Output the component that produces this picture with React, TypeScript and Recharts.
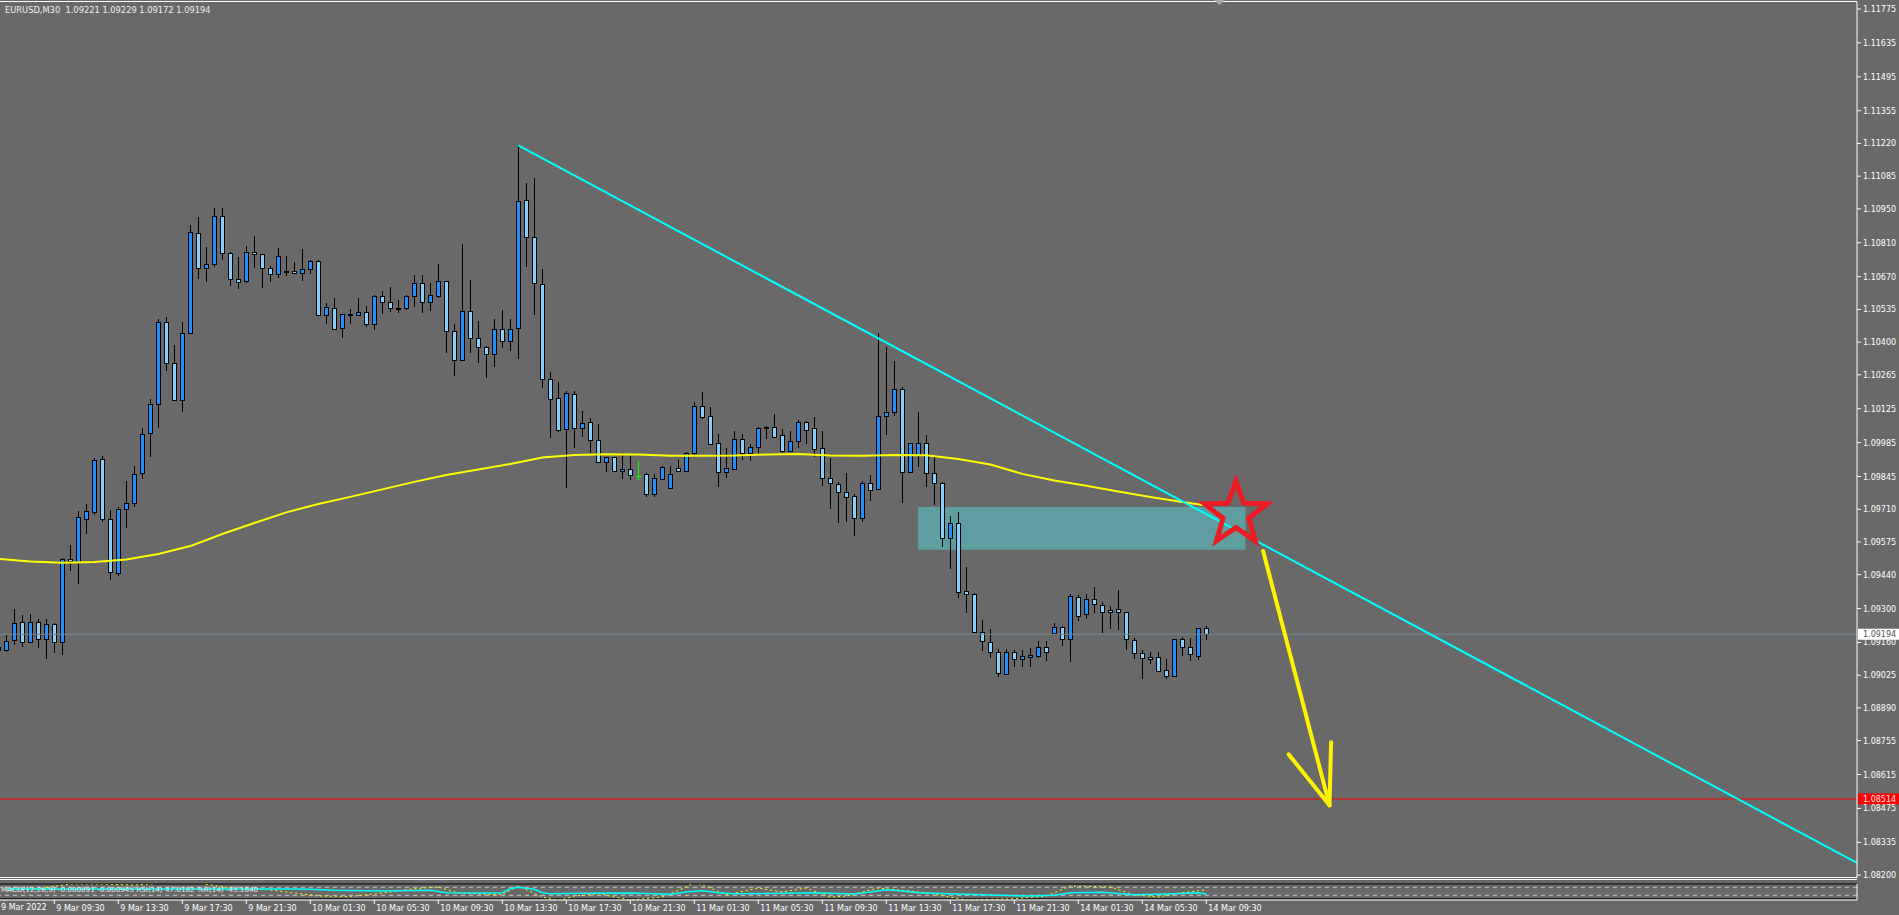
import React from "react";
import {
  ComposedChart,
  Bar,
  Line,
  XAxis,
  YAxis,
  ReferenceLine,
  ReferenceArea,
  ReferenceDot,
} from "recharts";

// EURUSD M30, bar index -1 = 9 Mar 06:00, 150 = 14 Mar 09:30
const firstBar = -1;

const opens = [
  1.09141, 1.09129, 1.0917, 1.09246, 1.09161, 1.09246, 1.09174, 1.09235, 1.09163, 1.09503,
  1.09494, 1.09669, 1.09697, 1.09916, 1.09669, 1.09446, 1.0971, 1.09735, 1.09858, 1.10024,
  1.10143, 1.10484, 1.10314, 1.1016, 1.10439, 1.10849, 1.10705, 1.10721, 1.10919, 1.10767,
  1.10659, 1.10651, 1.10772, 1.10762, 1.10705, 1.1068, 1.10688, 1.10692, 1.10684, 1.10701,
  1.10735, 1.10511, 1.1054, 1.10457, 1.10511, 1.10511, 1.10523, 1.10473, 1.10589, 1.10564,
  1.10541, 1.1054, 1.10592, 1.10643, 1.10564, 1.10589, 1.10651, 1.10445, 1.10326, 1.10529,
  1.10416, 1.10381, 1.1035, 1.10453, 1.10403, 1.10457, 1.10985, 1.10833, 1.10639, 1.10248,
  1.10168, 1.1004, 1.10185, 1.10044, 1.10069, 1.09995, 1.09906, 1.09925, 1.09867, 1.09875,
  1.09849, 1.09854, 1.09774, 1.09834, 1.09797, 1.09879, 1.09869, 1.09944, 1.10135, 1.10094,
  1.09982, 1.09865, 1.09876, 1.09999, 1.09944, 1.09966, 1.10051, 1.1005, 1.10017, 1.09952,
  1.09993, 1.10069, 1.10044, 1.09962, 1.09838, 1.09814, 1.0978, 1.09764, 1.09673, 1.09817,
  1.09792, 1.10096, 1.10113, 1.10205, 1.09865, 1.09934, 1.09982, 1.09858, 1.09817, 1.09593,
  1.09652, 1.09371, 1.09359, 1.09205, 1.09161, 1.0912, 1.0903, 1.0912, 1.09091, 1.09099,
  1.09106, 1.0914, 1.092, 1.09225, 1.09173, 1.09349, 1.09276, 1.09338, 1.09314, 1.09294,
  1.09297, 1.09285, 1.0917, 1.09115, 1.09099, 1.09099, 1.09046, 1.09023, 1.09173, 1.09143,
  1.09106, 1.09221,
];

const highs = [
  1.0915, 1.09191, 1.09297, 1.09274, 1.09276, 1.09256, 1.09256, 1.09239, 1.09508, 1.09562,
  1.09703, 1.09732, 1.0992, 1.0993, 1.09707, 1.09721, 1.09827, 1.09889, 1.10044, 1.10164,
  1.10494, 1.10502, 1.10388, 1.10482, 1.10883, 1.10916, 1.10791, 1.10952, 1.10952, 1.1077,
  1.1075, 1.10797, 1.10838, 1.10765, 1.10714, 1.10787, 1.10755, 1.10729, 1.10783, 1.10739,
  1.1074, 1.1056, 1.10581, 1.10517, 1.10537, 1.10581, 1.10549, 1.10594, 1.10611, 1.10628,
  1.10574, 1.10594, 1.10677, 1.10677, 1.10645, 1.10722, 1.10653, 1.10475, 1.10805, 1.10656,
  1.10487, 1.10383, 1.10495, 1.10533, 1.10495, 1.11212, 1.11056, 1.11076, 1.10702, 1.10275,
  1.10234, 1.10199, 1.10199, 1.10116, 1.10085, 1.10062, 1.09927, 1.09927, 1.09944, 1.0993,
  1.09909, 1.09858, 1.09856, 1.0989, 1.09889, 1.09913, 1.09948, 1.10152, 1.10194, 1.10131,
  1.10019, 1.09962, 1.10033, 1.10021, 1.09978, 1.10051, 1.10052, 1.10103, 1.1004, 1.10033,
  1.10078, 1.10074, 1.1009, 1.10033, 1.09922, 1.09824, 1.0986, 1.09772, 1.09827, 1.09851,
  1.10436, 1.1038, 1.10322, 1.10213, 1.09984, 1.10112, 1.10017, 1.09927, 1.09821, 1.09682,
  1.09699, 1.09473, 1.09366, 1.09253, 1.09216, 1.09132, 1.09132, 1.09129, 1.09129, 1.09139,
  1.09166, 1.09166, 1.09239, 1.09228, 1.09359, 1.09356, 1.0936, 1.09388, 1.09326, 1.09312,
  1.09377, 1.09287, 1.09177, 1.09129, 1.0912, 1.0912, 1.09091, 1.09176, 1.09181, 1.09177,
  1.09221, 1.09229,
];

const lows = [
  1.09075, 1.09121, 1.0915, 1.09143, 1.09157, 1.09139, 1.09091, 1.09118, 1.09108, 1.09456,
  1.094, 1.09607, 1.09686, 1.09656, 1.09418, 1.09435, 1.09634, 1.09718, 1.09835, 1.09927,
  1.10044, 1.10282, 1.10158, 1.10113, 1.10432, 1.10661, 1.10649, 1.10709, 1.10739, 1.10633,
  1.10618, 1.10645, 1.10707, 1.10622, 1.10649, 1.10663, 1.10673, 1.10682, 1.10654, 1.10683,
  1.10509, 1.10473, 1.1045, 1.10418, 1.10473, 1.10509, 1.10464, 1.1045, 1.10515, 1.10526,
  1.10521, 1.10533, 1.10546, 1.10521, 1.1053, 1.10583, 1.10356, 1.10261, 1.10323, 1.10356,
  1.10315, 1.10253, 1.10299, 1.10377, 1.10365, 1.10332, 1.10711, 1.10512, 1.10212, 1.10003,
  1.1003, 1.09799, 1.09962, 1.10007, 1.09941, 1.099, 1.09865, 1.09865, 1.09834, 1.09831,
  1.09831, 1.09762, 1.09762, 1.09832, 1.09795, 1.09867, 1.09865, 1.09925, 1.10081, 1.09975,
  1.09803, 1.0984, 1.09874, 1.09913, 1.09909, 1.09938, 1.10001, 1.10005, 1.09944, 1.0995,
  1.09962, 1.09979, 1.09927, 1.09807, 1.09711, 1.09655, 1.09659, 1.09601, 1.09659, 1.09745,
  1.0979, 1.10017, 1.10094, 1.09737, 1.09863, 1.09886, 1.09803, 1.09729, 1.09555, 1.09465,
  1.09345, 1.09283, 1.092, 1.09126, 1.09097, 1.09019, 1.09028, 1.09058, 1.09058, 1.0906,
  1.09097, 1.09084, 1.09198, 1.09147, 1.09081, 1.0925, 1.09256, 1.09281, 1.092, 1.09216,
  1.09212, 1.09129, 1.09091, 1.09008, 1.09071, 1.09039, 1.09009, 1.09019, 1.09104, 1.09085,
  1.09088, 1.09172,
];

const closes = [
  1.09129, 1.09167, 1.09239, 1.09161, 1.09246, 1.09174, 1.09235, 1.09163, 1.09503, 1.09496,
  1.09677, 1.09702, 1.09913, 1.09669, 1.0945, 1.0971, 1.09735, 1.09854, 1.10019, 1.10143,
  1.10484, 1.10314, 1.1016, 1.10439, 1.10853, 1.10705, 1.10721, 1.10919, 1.10767, 1.10659,
  1.10647, 1.10771, 1.10764, 1.10705, 1.1068, 1.10754, 1.10692, 1.10684, 1.10701, 1.10735,
  1.10511, 1.10544, 1.10454, 1.10515, 1.10516, 1.10523, 1.10473, 1.10589, 1.10564, 1.1054,
  1.10537, 1.10589, 1.10643, 1.10564, 1.10593, 1.10651, 1.10445, 1.10326, 1.10527, 1.10416,
  1.10379, 1.1035, 1.10453, 1.10403, 1.10453, 1.10983, 1.10833, 1.10643, 1.10248, 1.10164,
  1.10037, 1.10189, 1.10044, 1.10065, 1.09995, 1.09904, 1.09926, 1.09867, 1.09876, 1.0985,
  1.09849, 1.09772, 1.09838, 1.09883, 1.09856, 1.09869, 1.09944, 1.10135, 1.10092, 1.09979,
  1.09865, 1.09879, 1.09999, 1.09944, 1.09966, 1.10045, 1.10049, 1.1001, 1.09952, 1.09991,
  1.10069, 1.10038, 1.0996, 1.09838, 1.09817, 1.0978, 1.09762, 1.09673, 1.09817, 1.09791,
  1.10096, 1.1011, 1.10205, 1.09863, 1.09982, 1.09982, 1.09858, 1.09817, 1.09593, 1.09652,
  1.0937, 1.09359, 1.09205, 1.09165, 1.0912, 1.09033, 1.0912, 1.09091, 1.09104, 1.09108,
  1.0914, 1.09122, 1.09223, 1.09173, 1.09352, 1.09271, 1.09338, 1.09318, 1.09285, 1.09285,
  1.09285, 1.09173, 1.09115, 1.09095, 1.09091, 1.09044, 1.09023, 1.09173, 1.0914, 1.09111,
  1.09219, 1.09194,
];

// yellow moving average, read at every 4th bar
const maBars = [
  -1, 3, 7, 11, 15, 19, 23, 27, 31, 35, 39, 43, 47, 51, 55, 59, 63, 67, 71, 75, 79, 83, 87,
  91, 95, 99, 103, 107, 111, 115, 119, 123, 127, 131, 135, 139, 143, 147, 150,
];
const maValues = [
  1.09505, 1.09494, 1.09489, 1.09492, 1.09503, 1.09525, 1.09558, 1.09608, 1.09653, 1.09697,
  1.09732, 1.09761, 1.09792, 1.09823, 1.09851, 1.09874, 1.09897, 1.09924, 1.09934, 1.09937,
  1.09936, 1.09931, 1.09931, 1.09932, 1.09936, 1.09938, 1.09932, 1.09931, 1.09934, 1.09933,
  1.09917, 1.09895, 1.09856, 1.09829, 1.09807, 1.09783, 1.09761, 1.0974, 1.09725,
];

const priceTicks = [
  1.11775, 1.11635, 1.11495, 1.11355, 1.1122, 1.11085, 1.1095, 1.1081, 1.1067, 1.10535,
  1.104, 1.10265, 1.10125, 1.09985, 1.09845, 1.0971, 1.09575, 1.0944, 1.093, 1.0916,
  1.09025, 1.0889, 1.08755, 1.08615, 1.08475, 1.08335, 1.082,
];

const timeTickBars = [6, 14, 22, 30, 38, 46, 54, 62, 70, 78, 86, 94, 102, 110, 118, 126, 134, 142, 150];
const timeTickLabels = [
  "9 Mar 09:30", "9 Mar 13:30", "9 Mar 17:30", "9 Mar 21:30", "10 Mar 01:30", "10 Mar 05:30",
  "10 Mar 09:30", "10 Mar 13:30", "10 Mar 17:30", "10 Mar 21:30", "11 Mar 01:30",
  "11 Mar 05:30", "11 Mar 09:30", "11 Mar 13:30", "11 Mar 17:30", "11 Mar 21:30",
  "14 Mar 01:30", "14 Mar 05:30", "14 Mar 09:30",
];

// drawings on the chart
const trendStart = { bar: 64, price: 1.11212 };
const trendEnd = { bar: 231.34, price: 1.0825 };
const targetPrice = 1.08514;
const bidPrice = 1.09194;
const zoneBars = [113.96, 154.9];
const zonePrices = [1.09543, 1.09719];
const starPoint = { bar: 153.7, price: 1.0969 };
const arrowTail = { bar: 157.1, price: 1.09538 };
const arrowTip = { bar: 165.4, price: 1.08488 };
const arrowLeft = { bar: 160.3, price: 1.08698 };
const arrowRight = { bar: 165.6, price: 1.08748 };

// indicator window (cyan main line, yellow dotted oscillator)
const macdBars = [
  0, 10, 20, 30, 37, 41, 47, 53, 55, 60, 62, 63, 64, 66, 67, 68, 72, 78, 83, 85, 87, 89, 91,
  97, 101, 106, 108, 110, 112, 114, 120, 124, 128, 131, 133, 137, 141, 145, 149, 150,
];
const macdValues = [
  61.5, 61.5, 61.5, 61.5, 61.5, 55, 51.5, 55, 43, 41.5, 43, 63, 70, 60, 43, 38, 40, 41.5, 35,
  46.5, 53, 43, 38, 40, 43, 36.5, 46.5, 58, 51.5, 43, 35, 30, 26.5, 30, 43, 45, 33, 36.5, 43,
  36.5,
];
const rsiBars = [
  0, 4, 8, 12, 16, 20, 24, 28, 32, 36, 39, 43, 47, 51, 54, 56, 59, 62, 64, 67, 69, 71, 74, 78,
  82, 85, 86, 88, 90, 94, 97, 100, 103, 105, 109, 115, 120, 126, 130, 133, 138, 141, 144, 147,
  149, 150,
];
const rsiValues = [
  56.5, 61.5, 86.5, 86.5, 81.5, 91.5, 91.5, 66.5, 61.5, 41.5, 26.5, 24, 41.5, 63, 71.5, 46.5,
  36.5, 34, 76.5, 21.5, 3, 26.5, 38, 6.5, 21.5, 71.5, 96.5, 66.5, 31.5, 66.5, 46.5, 66.5,
  21.5, 26.5, 66.5, 43, 6.5, 13, 26.5, 76.5, 71.5, 31.5, 21.5, 43, 53, 56.5,
];

const X_MIN = -0.7875;
const X_MAX = 231.3375;
const Y_MIN = 1.081878;
const Y_MAX = 1.118039;
const FONT = "DejaVu Sans";
const BG = "#696969";

const candles = opens.map((o, k) => ({
  i: firstBar + k,
  open: o,
  high: highs[k],
  low: lows[k],
  close: closes[k],
  range: [lows[k], highs[k]],
}));
const candleBars = candles.map((c) => c.i);
const maData = maBars.map((b, k) => ({ i: b, ma: maValues[k] }));
const macdData = macdBars.map((b, k) => ({ i: b, macd: macdValues[k] }));
const rsiData = rsiBars.map((b, k) => ({ i: b, rsi: rsiValues[k] }));

const renderCandle = (props: any) => {
  const { x, y, width, height } = props;
  const c = props.payload || props;
  if (x == null || y == null || c.high == null) return <g />;
  const y0 = Math.min(y, y + height);
  const y1 = Math.max(y, y + height);
  const span = c.high - c.low || 1;
  const toY = (p: number) => y0 + ((c.high - p) / span) * (y1 - y0);
  const cx = Math.floor(x + width / 2) + 0.5;
  const top = Math.round(toY(Math.max(c.open, c.close))) + 0.5;
  let bot = Math.round(toY(Math.min(c.open, c.close))) + 0.5;
  const doji = c.open === c.close;
  if (bot - top < 1) bot = top + 1;
  const color = doji ? "#00ff00" : "#000000";
  return (
    <g>
      <line x1={cx} x2={cx} y1={Math.round(y0)} y2={Math.round(y1)} stroke={color} strokeWidth={1} />
      {doji ? (
        <line x1={cx - 2.5} x2={cx + 2.5} y1={top} y2={top} stroke={color} strokeWidth={1} />
      ) : (
        <rect
          x={cx - 2}
          y={top}
          width={4}
          height={bot - top}
          fill={c.close > c.open ? "#1e90ff" : "#87cefa"}
          stroke="#000000"
          strokeWidth={1}
        />
      )}
    </g>
  );
};

const renderStar = (props: any) => {
  const { cx, cy } = props;
  const pts: string[] = [];
  for (let k = 0; k < 10; k++) {
    const r = k % 2 === 0 ? 33 : 13.5;
    const a = -Math.PI / 2 + (k * Math.PI) / 5;
    pts.push(`${cx + r * Math.cos(a)},${cy + r * Math.sin(a)}`);
  }
  return <polygon points={pts.join(" ")} fill="none" stroke="#ed1c24" strokeWidth={5} />;
};

const PriceTick = (props: any) => (
  <text x={props.x} y={props.y} dy={3} fill="#ffffff" fontSize={8} fontFamily={FONT} textAnchor="start">
    {Number(props.payload.value).toFixed(5)}
  </text>
);

const TimeTick = (props: any) => {
  const k = timeTickBars.indexOf(props.payload.value);
  return (
    <text x={props.x + 2} y={props.y + 6} fill="#ffffff" fontSize={8} fontFamily={FONT} textAnchor="start">
      {timeTickLabels[k]}
    </text>
  );
};

const priceTag = (price: number, bg: string, fg: string) => (props: any) => {
  const vb = props.viewBox || {};
  const x = (vb.x || 0) + (vb.width || 0) + 1;
  const y = vb.y || 0;
  return (
    <g>
      <rect x={x} y={y - 5.5} width={42} height={11} fill={bg} />
      <text x={x + 5} y={y + 3} fill={fg} fontSize={8} fontFamily={FONT}>
        {price.toFixed(5)}
      </text>
    </g>
  );
};

const seg = (a: { bar: number; price: number }, b: { bar: number; price: number }) => [
  { x: a.bar, y: a.price },
  { x: b.bar, y: b.price },
];

const App = () => (
  <div style={{ position: "relative", width: 1899, height: 915, background: BG, overflow: "hidden" }}>
    <style>{"body{margin:0;overflow:hidden}"}</style>
    <ComposedChart width={1899} height={880} data={candles} margin={{ top: 2, right: 0, bottom: 2, left: 0 }}>
      <XAxis dataKey="i" type="number" domain={[X_MIN, X_MAX]} ticks={candleBars} allowDataOverflow hide />
      <YAxis
        orientation="right"
        width={42}
        domain={[Y_MIN, Y_MAX]}
        ticks={priceTicks}
        interval={0}
        allowDataOverflow
        axisLine={{ stroke: "#ffffff" }}
        tickLine={{ stroke: "#ffffff" }}
        tickSize={4}
        tickMargin={2}
        tick={PriceTick}
      />
      <ReferenceArea
        x1={zoneBars[0]}
        x2={zoneBars[1]}
        y1={zonePrices[0]}
        y2={zonePrices[1]}
        fill="#5f9ea0"
        fillOpacity={1}
        stroke="none"
      />
      <ReferenceLine y={bidPrice} stroke="#778899" label={priceTag(bidPrice, "#ffffff", "#505050")} />
      <ReferenceLine y={targetPrice} stroke="#ff0000" label={priceTag(targetPrice, "#ff0000", "#ffe4e4")} />
      <Bar dataKey="range" shape={renderCandle} barSize={4} isAnimationActive={false} />
      <Line
        data={maData}
        dataKey="ma"
        stroke="#ffff00"
        strokeWidth={2}
        dot={false}
        type="linear"
        isAnimationActive={false}
      />
      <ReferenceLine segment={seg(trendStart, trendEnd)} stroke="#00ffff" strokeWidth={2} ifOverflow="hidden" />
      <ReferenceLine segment={seg(arrowTail, arrowTip)} stroke="#fff200" strokeWidth={4} strokeLinecap="round" ifOverflow="visible" />
      <ReferenceLine segment={seg(arrowLeft, arrowTip)} stroke="#fff200" strokeWidth={4} strokeLinecap="round" ifOverflow="visible" />
      <ReferenceLine segment={seg(arrowRight, arrowTip)} stroke="#fff200" strokeWidth={4} strokeLinecap="round" ifOverflow="visible" />
      <ReferenceDot x={starPoint.bar} y={starPoint.price} r={33} shape={renderStar} ifOverflow="visible" />
    </ComposedChart>

    <div style={{ position: "absolute", left: 0, top: 879 }}>
      <ComposedChart width={1899} height={36} margin={{ top: 5, right: 0, bottom: 0, left: 0 }}>
        <XAxis
          dataKey="i"
          type="number"
          domain={[X_MIN, X_MAX]}
          ticks={timeTickBars}
          interval={0}
          height={15}
          allowDataOverflow
          axisLine={{ stroke: "#ffffff" }}
          tickLine={{ stroke: "#ffffff" }}
          tickSize={4}
          tickMargin={1}
          tick={TimeTick}
        />
        <YAxis
          orientation="right"
          width={42}
          domain={[6.5, 86.5]}
          allowDataOverflow
          tick={false}
          tickLine={false}
          axisLine={{ stroke: "#ffffff" }}
        />
        <ReferenceLine y={86.5} stroke="#000000" />
        <ReferenceLine y={70} stroke="#c8c8c8" strokeDasharray="4 4" />
        <ReferenceLine y={30} stroke="#c8c8c8" strokeDasharray="4 4" />
        <ReferenceLine y={12.5} stroke="#000000" />
        <Line
          data={rsiData}
          dataKey="rsi"
          stroke="#ffff00"
          strokeWidth={1}
          strokeDasharray="2 3"
          dot={false}
          type="linear"
          isAnimationActive={false}
        />
        <Line
          data={macdData}
          dataKey="macd"
          stroke="#00ffff"
          strokeWidth={1.5}
          dot={false}
          type="linear"
          isAnimationActive={false}
        />
      </ComposedChart>
    </div>

    <svg
      width={1899}
      height={915}
      style={{ position: "absolute", left: 0, top: 0, pointerEvents: "none" }}
    >
      <line x1={0} x2={1857} y1={1.5} y2={1.5} stroke="#ffffff" />
      <line x1={0} x2={1857} y1={877.5} y2={877.5} stroke="#ffffff" />
      <line x1={0} x2={1857} y1={879.5} y2={879.5} stroke="#ffffff" />
      <polygon points="1214,0 1225,0 1219.5,5" fill="#a9a9a9" />
      <text x={5} y={13} fill="#f0f0f0" fontSize={8.3} fontFamily={FONT} xmlSpace="preserve">
        EURUSD,M30  1.09221 1.09229 1.09172 1.09194
      </text>
      <text x={1} y={892} fill="#e6e6e6" fontSize={7.2} fontFamily={FONT}>
        MACD(12,26,9) -0.000891 -0.000945 RSI(14) 47.0182 %R(14) -45.1840
      </text>
      <text x={1} y={910} fill="#ffffff" fontSize={8} fontFamily={FONT}>
        9 Mar 2022
      </text>
    </svg>
  </div>
);

export default App;
